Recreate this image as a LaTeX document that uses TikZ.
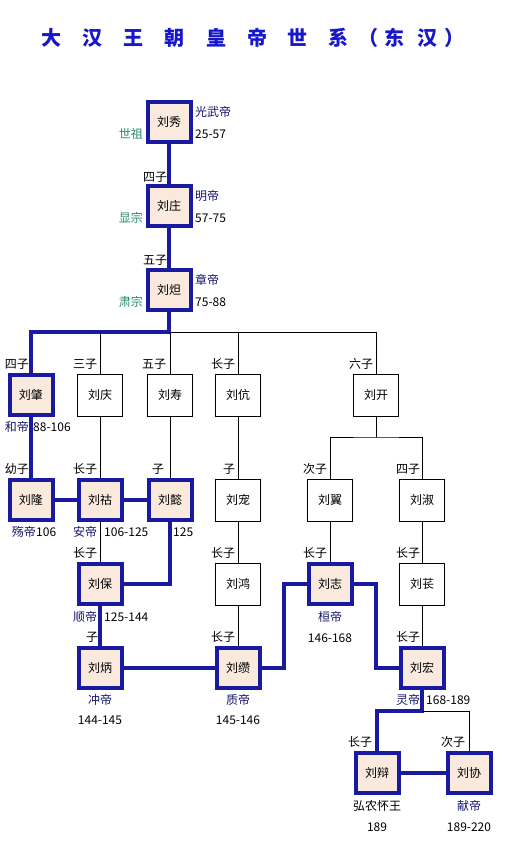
\documentclass[tikz,border=0pt]{standalone}
\usepackage{fontspec}
\newfontfamily\cjk{Noto Sans CJK SC}
\usepackage{xcolor}
\usepackage{tikz}
\usetikzlibrary{positioning}
\definecolor{hanblue}{RGB}{26,26,160}
\definecolor{peach}{RGB}{250,234,222}
\definecolor{navytext}{RGB}{22,22,110}
\definecolor{templegreen}{RGB}{34,140,110}
\definecolor{titleblue}{RGB}{22,22,205}

\begin{document}
\begin{tikzpicture}[x=1pt, y=-1pt, font=\cjk\fontsize{12}{14}\selectfont,
    empbox/.style={draw=hanblue, line width=4pt, fill=peach, minimum width=43pt, minimum height=40pt, inner sep=0pt},
    kinbox/.style={draw, line width=0.8pt, fill=white, minimum width=45pt, minimum height=42pt, inner sep=0pt},
    heir/.style={draw=hanblue, line width=4pt},
    kin/.style={draw, line width=0.8pt},
    rel/.style={inner sep=0pt},
    era/.style={inner sep=0pt, text=navytext},
    temple/.style={inner sep=0pt, text=templegreen},
    title/.style={inner sep=0pt, text=titleblue, font=\cjk\fontsize{20}{22}\selectfont\bfseries}]
    \useasboundingbox (0,0) rectangle (506,852);

    \foreach \x/\c [count=\i] in {51/大, 92/汉, 133/王, 174/朝, 216/皇, 257/帝, 297/世, 338/系, 368/（, 394/东, 427/汉, 454/）}
        \node[title] (title\i) at (\x,38) {\c};

    \node[empbox] (liuxiu) at (169,122) {刘秀};
    \node[empbox] (liuzhuang) at (169,206) {刘庄};
    \node[empbox] (liuda) at (169,290) {刘炟};

    \node[empbox] (liuzhao) at (31,395) {刘肇};
    \node[kinbox] (liuqing) at (100,395) {刘庆};
    \node[kinbox] (liushou) at (170,395) {刘寿};
    \node[kinbox] (liukang) at (238,395) {刘伉};
    \node[kinbox] (liukai) at (376,395) {刘开};

    \node[empbox] (liulong) at (31,500) {刘隆};
    \node[empbox] (liuhu) at (100,500) {刘祜};
    \node[empbox] (liuyi) at (170,500) {刘懿};
    \node[kinbox] (liuchong) at (238,500) {刘宠};
    \node[kinbox] (liuyii) at (330,500) {刘翼};
    \node[kinbox] (liushu) at (422,500) {刘淑};

    \node[empbox] (liubao) at (100,584) {刘保};
    \node[kinbox] (liuhong) at (238,584) {刘鸿};
    \node[empbox] (liuzhi) at (330,584) {刘志};
    \node[kinbox] (liuchang) at (422,584) {刘苌};

    \node[empbox] (liubing) at (100,668) {刘炳};
    \node[empbox] (liuzuan) at (238,668) {刘缵};
    \node[empbox] (liuhong2) at (422,668) {刘宏};

    \node[empbox] (liubian) at (377,773) {刘辩};
    \node[empbox] (liuxie) at (469,773) {刘协};

    \coordinate (bar) at (169,332);
    \coordinate (kaifork) at (376,437);
    \coordinate (jog1) at (284,668);
    \coordinate (jog2) at (376,584);
    \coordinate (lingfork) at (422,711);

    \draw[heir] (liuxiu) -- (liuzhuang);
    \draw[heir] (liuzhuang) -- (liuda);
    \draw[heir] (liuda.south) -- (bar) -| (liuzhao.north);
    \draw[kin] (bar) -| (liukai.north);
    \draw[kin] (liuqing.north) -- (liuqing |- bar);
    \draw[kin] (liushou.north) -- (liushou |- bar);
    \draw[kin] (liukang.north) -- (liukang |- bar);

    \draw[heir] (liuzhao) -- (liulong);
    \draw[heir] (liulong) -- (liuhu);
    \draw[heir] (liuhu) -- (liuyi);
    \draw[kin] (liuqing) -- (liuhu);
    \draw[kin] (liushou) -- (liuyi);
    \draw[kin] (liukang) -- (liuchong);
    \draw[kin] (liukai.south) -- (kaifork);
    \draw[kin] (liuyii.north) |- (kaifork) -| (liushu.north);

    \draw[kin] (liuhu) -- (liubao);
    \draw[heir] (liuyi.south) |- (liubao.east);
    \draw[kin] (liuchong) -- (liuhong);
    \draw[kin] (liuyii) -- (liuzhi);
    \draw[kin] (liushu) -- (liuchang);

    \draw[heir] (liubao) -- (liubing);
    \draw[heir] (liubing) -- (liuzuan);
    \draw[kin] (liuhong) -- (liuzuan);
    \draw[heir] (liuzuan.east) -- (jog1) |- (liuzhi.west);
    \draw[heir] (liuzhi.east) -| (jog2) |- (liuhong2.west);
    \draw[kin] (liuchang) -- (liuhong2);

    \draw[heir] (liuhong2.south) -- (lingfork) -| (liubian.north);
    \draw[kin] (lingfork) -| (liuxie.north);
    \draw[heir] (liubian) -- (liuxie);

    \node[era, anchor=west] (guangwu) at (195,112) {光武帝};
    \node[rel, anchor=west] (yrxiu) at (195,134) {25-57};
    \node[temple, anchor=east] (shizu) at (143,134) {世祖};
    \node[rel] (rzhuang) at (155,177) {四子};
    \node[era, anchor=west] (mingdi) at (195,196) {明帝};
    \node[rel, anchor=west] (yrzhuang) at (195,218) {57-75};
    \node[temple, anchor=east] (xianzong) at (143,218) {显宗};
    \node[rel] (rda) at (155,260) {五子};
    \node[era, anchor=west] (zhangdi) at (195,280) {章帝};
    \node[rel, anchor=west] (yrda) at (195,302) {75-88};
    \node[temple, anchor=east] (suzong) at (143,302) {肃宗};

    \node[rel] (rzhao) at (17,364) {四子};
    \node[rel] (rqing) at (85,364) {三子};
    \node[rel] (rshou) at (154,364) {五子};
    \node[rel] (rkang) at (223,364) {长子};
    \node[rel] (rkai) at (361,364) {六子};
    \node[era] (hedi) at (17,427) {和帝};
    \node[rel, anchor=west] (yrzhao) at (33,427) {88-106};

    \node[rel] (rlong) at (17,469) {幼子};
    \node[rel] (rhu) at (85,469) {长子};
    \node[rel] (ryi) at (158,469) {子};
    \node[rel] (rchong) at (229,469) {子};
    \node[rel] (ryii) at (315,469) {次子};
    \node[rel] (rshu) at (408,469) {四子};
    \node[era] (shangdi) at (24,532) {殇帝};
    \node[rel, anchor=west] (yrlong) at (36,532) {106};
    \node[era] (andi) at (85,532) {安帝};
    \node[rel, anchor=west] (yrhu) at (104,532) {106-125};
    \node[rel, anchor=west] (yryi) at (173,532) {125};

    \node[rel] (rbao) at (85,553) {长子};
    \node[rel] (rhong) at (223,553) {长子};
    \node[rel] (rzhi) at (315,553) {长子};
    \node[rel] (rchang) at (408,553) {长子};
    \node[era] (shundi) at (85,617) {顺帝};
    \node[rel, anchor=west] (yrbao) at (104,617) {125-144};
    \node[era] (huandi) at (330,617) {桓帝};
    \node[rel] (yrzhi) at (330,638) {146-168};

    \node[rel] (rbing) at (92,637) {子};
    \node[rel] (rzuan) at (223,637) {长子};
    \node[rel] (rhong2) at (408,637) {长子};
    \node[era] (chongdi) at (100,700) {冲帝};
    \node[rel] (yrbing) at (100,720) {144-145};
    \node[era] (zhidi) at (238,700) {质帝};
    \node[rel] (yrzuan) at (238,720) {145-146};
    \node[era] (lingdi) at (408,700) {灵帝};
    \node[rel, anchor=west] (yrhong2) at (426,700) {168-189};

    \node[rel] (rbian) at (360,742) {长子};
    \node[rel] (rxie) at (453,742) {次子};
    \node[rel] (hongnong) at (377,806) {弘农怀王};
    \node[rel] (yrbian) at (377,827) {189};
    \node[era] (xiandi) at (469,806) {献帝};
    \node[rel] (yrxie) at (469,827) {189-220};
\end{tikzpicture}
\end{document}
